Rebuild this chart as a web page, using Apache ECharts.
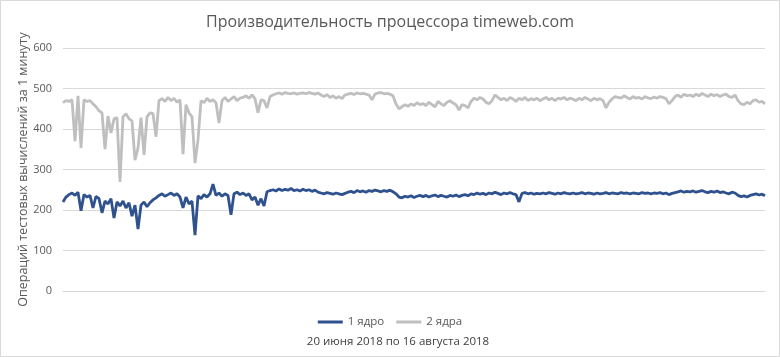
<!DOCTYPE html>
<html>
<head>
<meta charset="utf-8">
<script src="https://cdn.jsdelivr.net/npm/echarts@6/dist/echarts.min.js"></script>
<style>html,body{margin:0;padding:0;background:#fff}#c{width:780px;height:357px}</style>
</head>
<body>
<div id="c"></div>
<script>
var titleText = 'Производительность процессора timeweb.com';
var yAxisName = 'Операций тестовых вычислений за 1 минуту';
var xAxisName = '20 июня 2018 по 16 августа 2018';
var seriesNames = ['1 ядро', '2 ядра'];
var yTicks = [0, 100, 200, 300, 400, 500, 600];

var core2 = [
465,470,468,472,370,482,353,472,468,470,
462,455,445,440,350,432,390,425,428,269,
430,438,425,420,323,353,428,336,430,440,
438,381,470,475,468,478,470,476,466,472,
338,460,440,430,316,373,470,465,476,468,
472,465,415,470,478,468,474,480,470,476,
478,482,476,484,475,440,472,470,452,480,
484,487,489,486,490,488,487,489,486,488,
489,487,490,488,486,489,484,480,485,478,
482,476,480,475,484,486,488,485,489,487,
488,486,484,472,486,489,490,487,488,486,
482,462,450,455,460,456,462,458,465,460,
463,458,466,460,455,468,462,458,466,470,
464,460,447,460,458,452,468,476,472,478,
474,466,462,470,484,478,472,476,470,478,
474,468,476,472,478,470,475,472,476,470,
474,478,472,476,470,476,474,478,472,476,
474,470,476,472,478,474,470,476,472,475,
470,452,466,474,480,478,476,482,478,474,
480,476,478,474,480,477,475,479,476,480,
478,475,462,470,480,484,478,486,482,484,
480,486,482,488,484,480,486,482,485,480,
484,486,480,478,484,470,462,460,466,462,
470,472,466,468,462
];

var core1 = [
220,232,238,242,236,244,198,238,232,236,
205,234,228,193,222,215,228,180,220,210,
222,205,218,185,212,153,212,220,208,218,
225,230,236,240,234,238,242,236,240,232,
205,232,215,222,138,235,228,238,232,240,
264,236,242,234,240,236,188,240,244,238,
242,236,240,225,232,212,228,210,245,248,
250,247,252,248,251,249,253,248,250,247,
251,248,250,246,249,244,242,240,243,241,
239,242,240,238,241,244,246,243,248,245,
247,244,248,246,249,247,245,248,246,249,
245,240,232,230,234,232,235,231,234,236,
233,236,232,235,237,233,236,234,232,236,
234,237,233,236,238,235,240,238,242,239,
241,238,242,240,244,241,238,242,240,243,
240,238,220,241,243,240,242,239,241,240,
242,240,243,241,239,242,240,243,241,240,
242,240,241,243,240,242,241,239,242,240,
241,243,240,242,241,240,243,241,242,240,
242,241,240,243,241,242,240,242,241,243,
240,242,238,241,243,245,247,244,246,245,
247,244,246,248,245,243,246,244,247,243,
245,242,240,244,242,236,233,235,232,236,
238,240,237,239,235
];

var categories = core1.map(function (_, i) { return i + 1; });

var chart = echarts.init(document.getElementById('c'), null, {renderer: 'canvas'});
var font = 'Open Sans, Noto Sans, sans-serif';
chart.setOption({
  animation: false,
  backgroundColor: '#fff',
  title: {
    text: titleText,
    left: 'center',
    top: 9,
    textStyle: {fontFamily: font, fontSize: 16, fontWeight: 'normal', color: '#595959'}
  },
  graphic: [{
    type: 'rect',
    shape: {x: 0.5, y: 0.5, width: 779, height: 356},
    style: {fill: 'none', stroke: '#d9d9d9', lineWidth: 1},
    silent: true
  }, {
    type: 'text',
    x: 398,
    y: 342,
    style: {
      text: xAxisName,
      align: 'center',
      verticalAlign: 'middle',
      font: '11.5px ' + font,
      fill: '#404040'
    },
    silent: true
  }],
  legend: {
    data: seriesNames,
    top: 311,
    left: 'center',
    icon: 'rect',
    itemWidth: 25,
    itemHeight: 3,
    itemGap: 12,
    textStyle: {fontFamily: font, fontSize: 11.5, color: '#595959'}
  },
  grid: {left: 63, right: 15, top: 48, bottom: 66, containLabel: false},
  xAxis: {
    type: 'category',
    data: categories,
    boundaryGap: false,
    axisLine: {show: true, lineStyle: {color: '#d9d9d9'}},
    axisTick: {show: false},
    axisLabel: {show: false}
  },
  yAxis: {
    type: 'value',
    min: yTicks[0],
    max: yTicks[yTicks.length - 1],
    interval: 100,
    name: yAxisName,
    nameLocation: 'middle',
    nameGap: 40,
    nameMoveOverlap: false,
    nameTextStyle: {fontFamily: font, fontSize: 12.5, color: '#595959', verticalAlign: 'middle'},
    axisLine: {show: false},
    axisTick: {show: false},
    axisLabel: {fontFamily: font, fontSize: 11, color: '#595959', margin: 11},
    splitLine: {lineStyle: {color: '#d9d9d9', width: 1}}
  },
  series: [
    {
      name: seriesNames[0],
      type: 'line',
      data: core1,
      showSymbol: false,
      symbol: 'none',
      lineStyle: {color: '#2F528F', width: 2.8},
      itemStyle: {color: '#2F528F'},
      z: 3
    },
    {
      name: seriesNames[1],
      type: 'line',
      data: core2,
      showSymbol: false,
      symbol: 'none',
      lineStyle: {color: '#BFBFBF', width: 2.8},
      itemStyle: {color: '#BFBFBF'},
      z: 2
    }
  ]
});
</script>
</body>
</html>
